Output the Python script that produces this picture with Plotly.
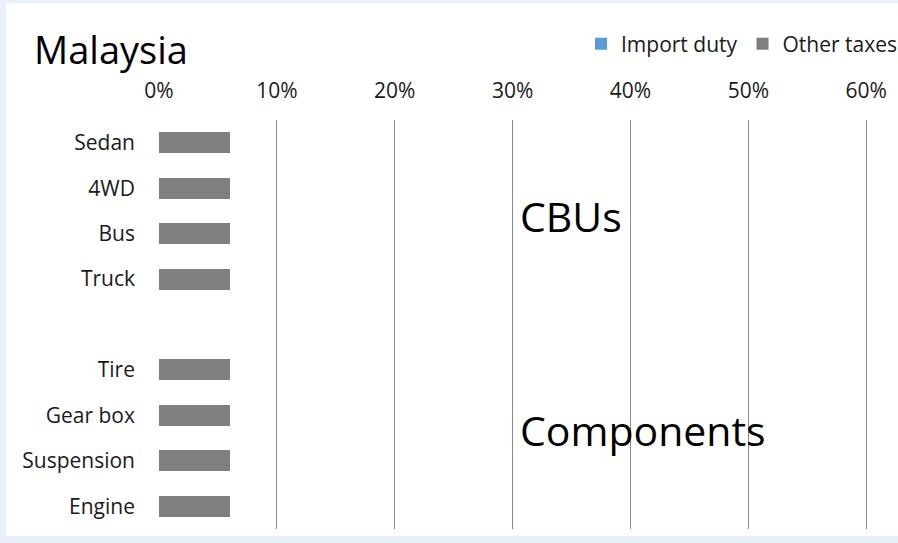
import plotly.graph_objects as go

categories = ["Sedan", "4WD", "Bus", "Truck", " ", "Tire", "Gear box", "Suspension", "Engine"]
import_duty = [0, 0, 0, 0, None, 0, 0, 0, 0]
other_taxes = [0.06, 0.06, 0.06, 0.06, None, 0.06, 0.06, 0.06, 0.06]
tick_vals = [0, 0.1, 0.2, 0.3, 0.4, 0.5, 0.6]
tick_text = ["0%", "10%", "20%", "30%", "40%", "50%", "60%"]

W, H = 898, 543
L, R, T, B = 159, 30, 120, 14
pw, ph = W - L - R, H - T - B

def px(x):
    return (x - L) / pw

def py(y):
    return (H - B - y) / ph

FONT = "Open Sans"

fig = go.Figure()
fig.add_trace(go.Bar(y=categories, x=import_duty, name="Import duty", orientation="h",
                     marker=dict(color="#5B9BD5", line=dict(width=0))))
fig.add_trace(go.Bar(y=categories, x=other_taxes, name="Other taxes", orientation="h",
                     marker=dict(color="#7F7F7F", line=dict(width=0))))

fig.update_layout(
    width=W, height=H,
    margin=dict(l=L, r=R, t=T, b=B, autoexpand=False),
    barmode="stack",
    bargap=0.54,
    paper_bgcolor="#EAF0FA",
    plot_bgcolor="rgba(0,0,0,0)",
    font=dict(family=FONT, size=21, color="#1a1a1a"),
    showlegend=True,
    legend=dict(orientation="h", x=px(903), xanchor="right", y=py(44), yanchor="middle",
                bgcolor="rgba(0,0,0,0)", font=dict(size=21, color="#1a1a1a"),
                traceorder="normal", itemwidth=30),
    xaxis=dict(range=[0, 0.6015], side="top", tickvals=tick_vals, ticktext=tick_text,
               showgrid=True, gridcolor="#8C8C8C", gridwidth=1, zeroline=False,
               showline=False, ticks="", ticklabelstandoff=17,
               tickfont=dict(size=21, color="#1a1a1a"), fixedrange=True),
    yaxis=dict(categoryorder="array", categoryarray=categories, autorange="reversed",
               showgrid=False, zeroline=False, showline=False, ticks="",
               ticklabelstandoff=23, tickfont=dict(size=21, color="#1a1a1a")),
    shapes=[
        dict(type="rect", xref="paper", yref="paper", x0=px(6), x1=px(900), y0=py(536), y1=py(3),
             fillcolor="white", line=dict(width=0), layer="below"),
    ],
    annotations=[
        dict(text="Malaysia", xref="paper", yref="paper", x=px(33), y=py(49), xanchor="left",
             yanchor="middle", showarrow=False, borderpad=0, font=dict(size=38, color="#000000")),
        dict(text="CBUs", xref="paper", yref="paper", x=px(518), y=py(216), xanchor="left",
             yanchor="middle", showarrow=False, font=dict(size=41, color="#000000")),
        dict(text="Components", xref="paper", yref="paper", x=px(518), y=py(430), xanchor="left",
             yanchor="middle", showarrow=False, font=dict(size=41, color="#000000")),
    ],
)

fig.write_html("out.html")
